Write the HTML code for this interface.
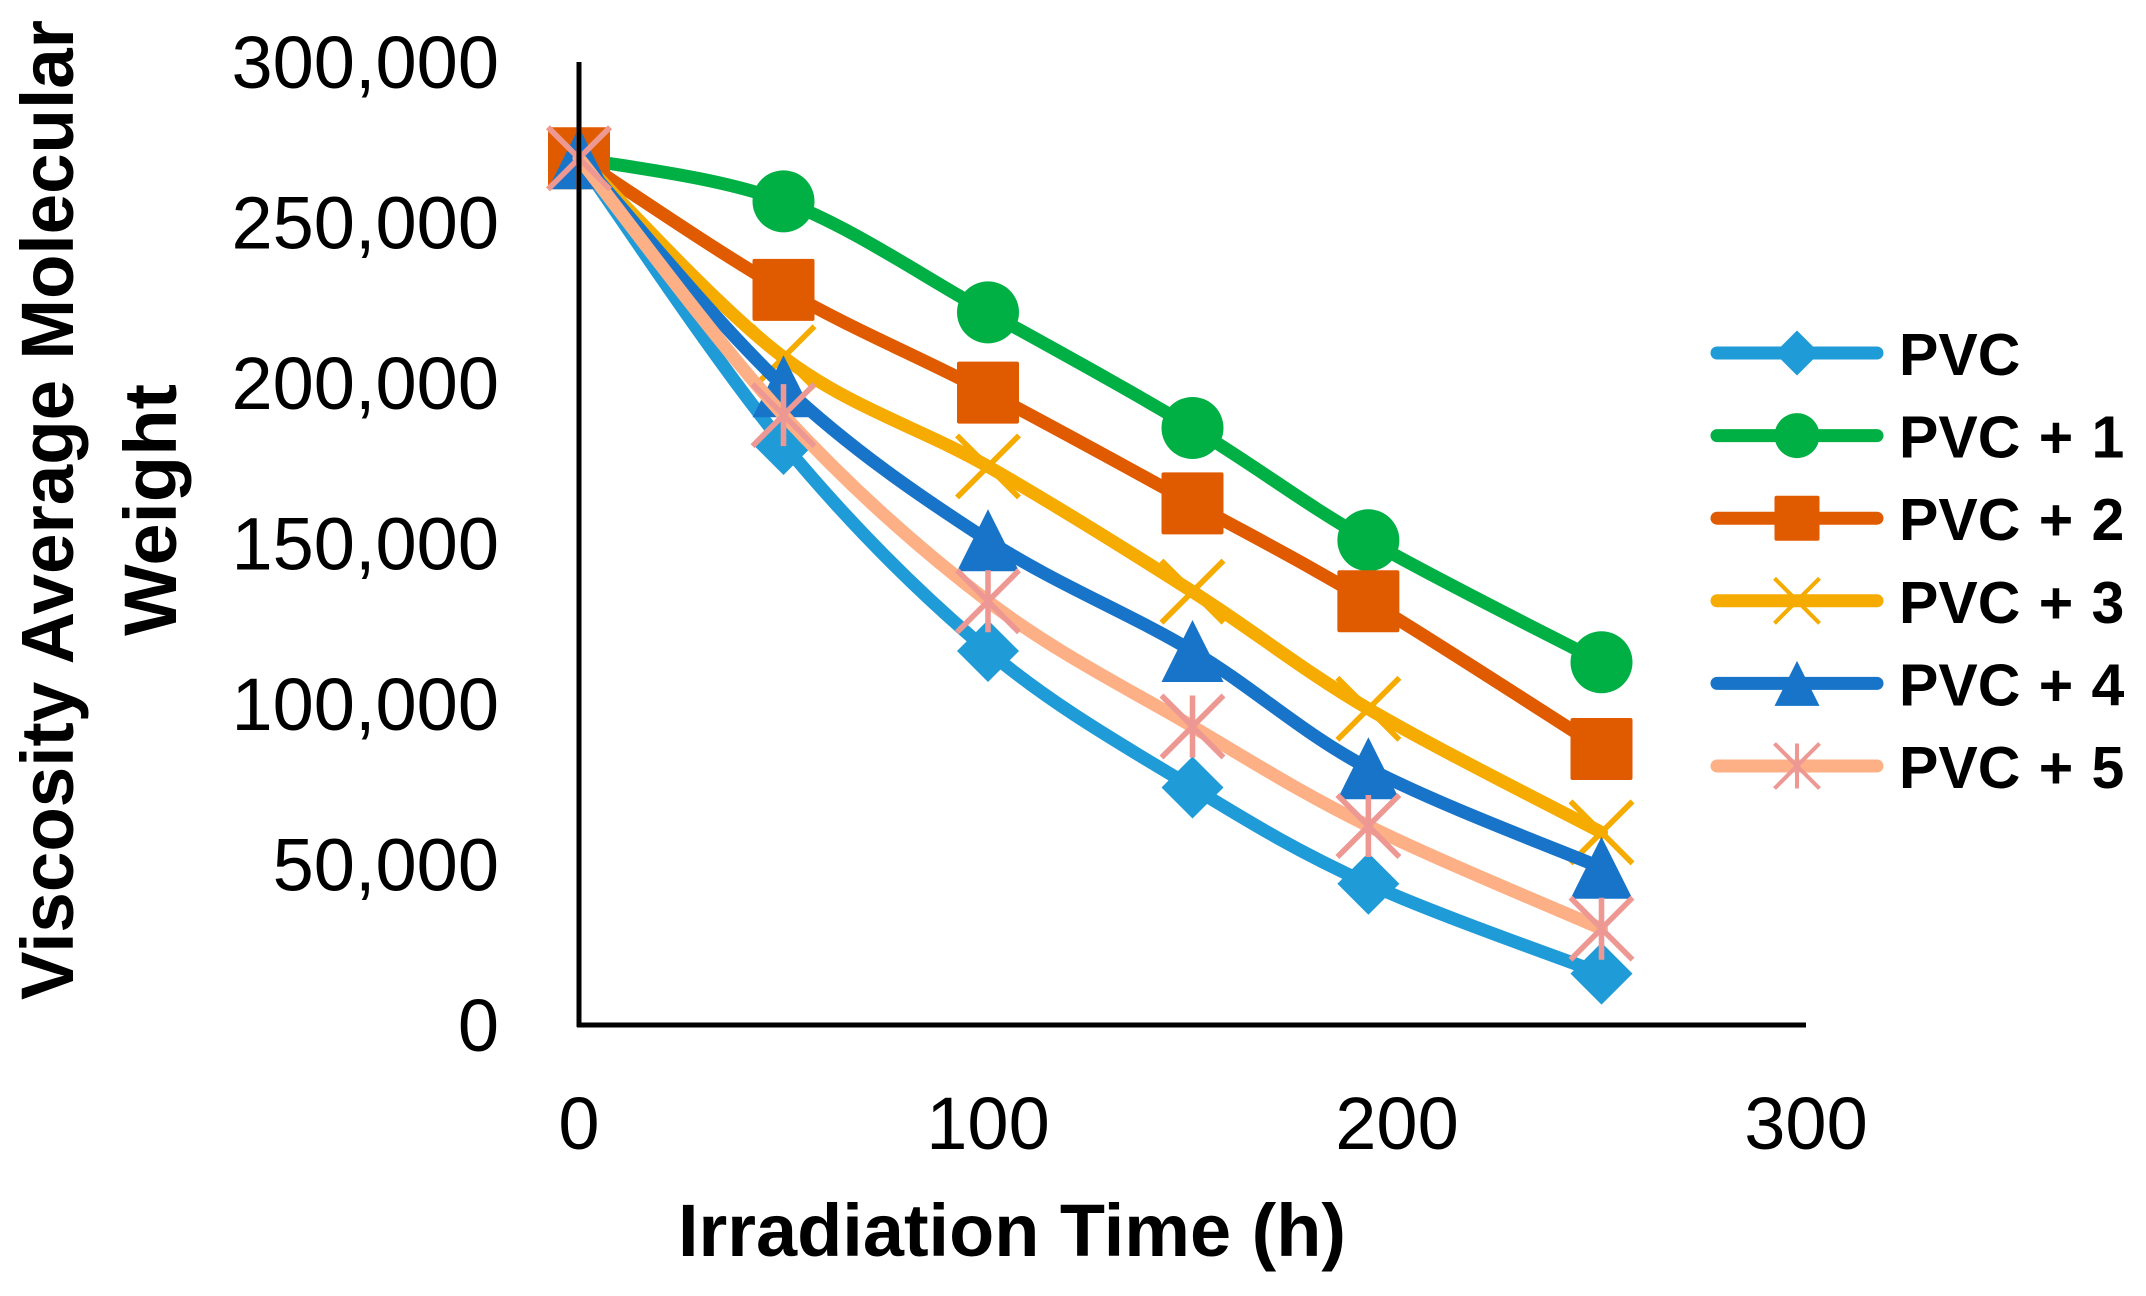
<!DOCTYPE html>
<html><head><meta charset="utf-8"><style>
html,body{margin:0;padding:0;background:#fff;}
svg{display:block;}
text{font-family:"Liberation Sans",sans-serif;}
</style></head><body>
<svg id="chart" width="2146" height="1296" viewBox="0 0 2146 1296">
<g id="series-layer"></g>
<g id="axes"></g>
</svg>
<script>
const xValues = [0, 50, 100, 150, 193, 250];
const seriesNames = ["PVC", "PVC + 1", "PVC + 2", "PVC + 3", "PVC + 4", "PVC + 5"];
const pvc  = [270000, 181000, 116500, 74000, 44000, 16000];
const pvc1 = [270000, 256600, 222000, 186000, 151000, 113000];
const pvc2 = [270000, 229000, 197000, 162500, 132000, 86000];
const pvc3 = [270000, 208000, 174000, 135000, 98500, 60000];
const pvc4 = [270000, 199000, 151000, 116500, 80000, 49000];
const pvc5 = [270000, 190000, 132000, 93000, 62000, 30000];
const yTicks = [0, 50000, 100000, 150000, 200000, 250000, 300000];
const xTicks = [0, 100, 200, 300];

const NS = "http://www.w3.org/2000/svg";
const X0 = 579, X1 = 1806, Y0 = 1025, Y1 = 62;
function sx(v){ return X0 + (v - 0) / 300 * (X1 - X0); }
function sy(v){ return Y0 - v / 300000 * (Y0 - Y1); }
function mk(tag, attrs, parent){
  const e = document.createElementNS(NS, tag);
  for (const k in attrs) e.setAttribute(k, attrs[k]);
  parent.appendChild(e); return e;
}
const colors = ["#1F9BD7", "#00B045", "#E05A00", "#F5AB00", "#1874C8", "#FDB085"];
const markerColors = ["#1F9BD7", "#00B045", "#E05A00", "#F5AB00", "#1874C8", "#EE9893"];
const markers = ["diamond", "circle", "square", "x", "triangle", "star"];
const allSeries = [pvc, pvc1, pvc2, pvc3, pvc4, pvc5];

function smoothPath(pts){
  let d = "M" + pts[0][0] + "," + pts[0][1];
  for (let i = 0; i < pts.length - 1; i++){
    const p0 = pts[Math.max(0, i-1)], p1 = pts[i], p2 = pts[i+1], p3 = pts[Math.min(pts.length-1, i+2)];
    const c1x = p1[0] + (p2[0]-p0[0])/6, c1y = p1[1] + (p2[1]-p0[1])/6;
    const c2x = p2[0] - (p3[0]-p1[0])/6, c2y = p2[1] - (p3[1]-p1[1])/6;
    d += " C" + c1x + "," + c1y + " " + c2x + "," + c2y + " " + p2[0] + "," + p2[1];
  }
  return d;
}
function drawMarker(g, type, cx, cy, s, color){
  const h = s/2;
  let e;
  if (type === "circle") e = mk("circle", {cx:cx, cy:cy, r:h, fill:color}, g);
  else if (type === "square") e = mk("rect", {x:cx-h, y:cy-h, width:s, height:s, rx:2, fill:color}, g);
  else if (type === "diamond") e = mk("polygon", {points:`${cx},${cy-h} ${cx+h},${cy} ${cx},${cy+h} ${cx-h},${cy}`, fill:color}, g);
  else if (type === "triangle") e = mk("polygon", {points:`${cx},${cy-h} ${cx+h},${cy+h} ${cx-h},${cy+h}`, fill:color}, g);
  else if (type === "x") e = mk("path", {d:`M${cx-h},${cy-h}L${cx+h},${cy+h}M${cx+h},${cy-h}L${cx-h},${cy+h}`, stroke:color, "stroke-width":s*0.09, fill:"none"}, g);
  else e = mk("path", {d:`M${cx-h},${cy-h}L${cx+h},${cy+h}M${cx+h},${cy-h}L${cx-h},${cy+h}M${cx},${cy-h}L${cx},${cy+h}`, stroke:color, "stroke-width":s*0.09, fill:"none"}, g);
  
  
}

const layer = document.getElementById("series-layer");
allSeries.forEach((vals, si) => {
  const g = mk("g", {}, layer);
  
  
  const pts = vals.map((v, i) => [sx(xValues[i]), sy(v)]);
  const p = mk("path", {d:smoothPath(pts), stroke:colors[si], "stroke-width":13, fill:"none", "stroke-linejoin":"round", "stroke-linecap":"round"}, g);
  
  
  pts.forEach(pt => drawMarker(g, markers[si], pt[0], pt[1], 62, markerColors[si]));
});

const ax = document.getElementById("axes");
const yl = mk("line", {x1:X0, y1:Y1, x2:X0, y2:Y0+2, stroke:"#000", "stroke-width":5}, ax);


const xl = mk("line", {x1:X0-2, y1:Y0, x2:X1, y2:Y0, stroke:"#000", "stroke-width":5}, ax);


yTicks.forEach(v => {
  const t = mk("text", {x:499, y:sy(v) + 26, "text-anchor":"end", "font-size":74, fill:"#000"}, ax);
  t.textContent = v.toLocaleString("en-US");
  
  
});
xTicks.forEach(v => {
  const t = mk("text", {x:sx(v), y:1149, "text-anchor":"middle", "font-size":74, fill:"#000"}, ax);
  t.textContent = String(v);
  
  
});
const xt = mk("text", {x:1012, y:1256, "text-anchor":"middle", "font-size":74, "font-weight":"bold", textLength:668, lengthAdjust:"spacingAndGlyphs", fill:"#000"}, ax);
xt.textContent = "Irradiation Time (h)";


const yt1 = mk("text", {x:0, y:0, transform:"translate(73,510) rotate(-90)", "text-anchor":"middle", "font-size":74, "font-weight":"bold", textLength:980, lengthAdjust:"spacingAndGlyphs", fill:"#000"}, ax);
yt1.textContent = "Viscosity Average Molecular";


const yt2 = mk("text", {x:0, y:0, transform:"translate(176,510) rotate(-90)", "text-anchor":"middle", "font-size":74, "font-weight":"bold", textLength:252, lengthAdjust:"spacingAndGlyphs", fill:"#000"}, ax);
yt2.textContent = "Weight";



const legend = mk("g", {}, ax);


seriesNames.forEach((name, si) => {
  const y = 353 + si * 82.6;
  const g = mk("g", {}, legend);
  
  
  mk("line", {x1:1717, y1:y, x2:1877, y2:y, stroke:colors[si], "stroke-width":13, "stroke-linecap":"round"}, g);
  drawMarker(g, markers[si], 1797, y, 45, markerColors[si]);
  const t = mk("text", {x:1899, y:y + 22, "font-size":59, "font-weight":"bold", "word-spacing":"2", fill:"#000"}, g);
  t.textContent = name;
  
  
});
</script>
</body></html>
